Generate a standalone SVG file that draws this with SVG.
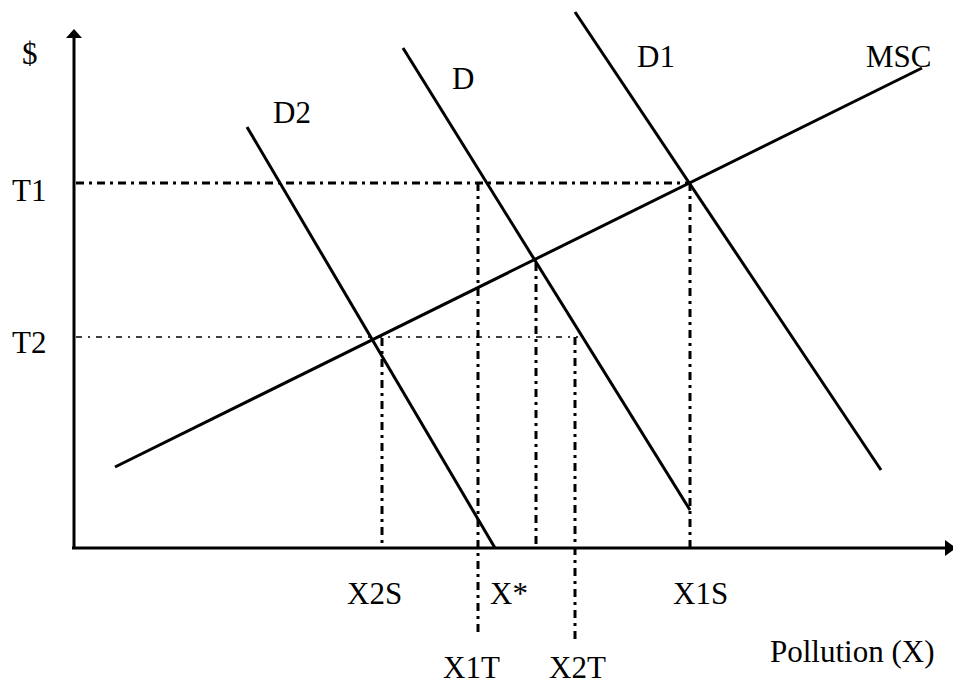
<svg xmlns="http://www.w3.org/2000/svg" width="953" height="685" viewBox="0 0 953 685">
<style>
.t{font-family:"Liberation Serif","Tinos","Times New Roman","DejaVu Serif",serif;font-size:31px;fill:#000}
.ax{stroke:#000;stroke-width:3;fill:none}
.cv{stroke:#000;stroke-width:3;fill:none}
.g1{stroke:#000;stroke-width:3;fill:none;stroke-dasharray:8 5 3 5}
.g2{stroke:#000;stroke-width:1.5;fill:none;stroke-dasharray:6 6 2 6}
</style>
<rect width="953" height="685" fill="#fff"/>
<g id="axes">
<line class="ax" x1="74" y1="36" x2="74" y2="549"/>
<polygon points="74,29 66,38 82,38" fill="#000"/>
<line class="ax" x1="72" y1="548" x2="948" y2="548"/>
<polygon points="945,540 945,556 956,548" fill="#000"/>
</g>
<g id="connectors">
<line class="g1" x1="76" y1="183" x2="689" y2="183"/>
<line class="g2" x1="76" y1="337" x2="578" y2="337"/>
<line class="g1" x1="382" y1="338" x2="382" y2="548"/>
<line class="g1" x1="478" y1="183" x2="478" y2="636"/>
<line class="g1" x1="536" y1="263" x2="536" y2="548"/>
<line class="g1" x1="575" y1="337" x2="575" y2="641"/>
<line class="g1" x1="690" y1="183" x2="690" y2="548"/>
</g>
<g id="MSC"><line class="cv" x1="115" y1="467" x2="922" y2="68"/><text class="t" x="866" y="67">MSC</text></g>
<g id="D2"><line class="cv" x1="247" y1="127" x2="495" y2="548"/><text class="t" x="273" y="123">D2</text></g>
<g id="D"><line class="cv" x1="403" y1="48" x2="690" y2="510"/><text class="t" x="452" y="89">D</text></g>
<g id="D1"><line class="cv" x1="575" y1="12" x2="881" y2="470"/><text class="t" x="637" y="67">D1</text></g>
<g id="labels">
<text class="t" x="22" y="64">$</text>
<text class="t" x="12" y="201">T1</text>
<text class="t" x="12" y="353">T2</text>
<text class="t" x="347" y="604">X2S</text>
<text class="t" x="490" y="604">X*</text>
<text class="t" x="673" y="604">X1S</text>
<text class="t" x="443" y="678">X1T</text>
<text class="t" x="549" y="678">X2T</text>
<text class="t" x="770" y="662">Pollution (X)</text>
</g>
</svg>
